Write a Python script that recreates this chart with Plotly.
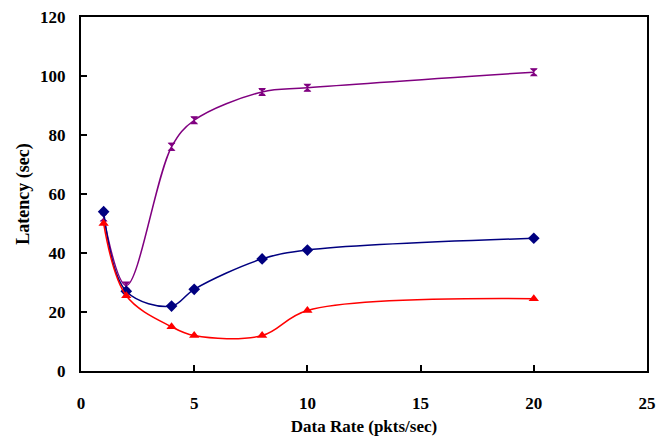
import plotly.graph_objects as go

data_rate = [1, 2, 4, 5, 8, 10, 20]
latency_blue = [54, 27, 22, 27.7, 38, 41, 45]
latency_red = [50, 25.5, 15, 12, 12, 20.5, 24.5]
latency_purple = [52, 29, 76, 85, 94.6, 96, 101.3]
purple_err = [1, 1, 1.2, 1, 0.8, 1, 1]

x_ticks = [0, 5, 10, 15, 20, 25]
y_ticks = [0, 20, 40, 60, 80, 100, 120]

font_fam = "Liberation Serif"

fig = go.Figure()
fig.add_trace(go.Scatter(
    x=data_rate, y=latency_purple, mode="lines+markers",
    line=dict(color="#800080", width=1.5, shape="spline"),
    marker=dict(symbol="hourglass", size=8, color="#800080"),
    error_y=dict(type="data", array=purple_err, color="#800080", thickness=1, width=3),
))
fig.add_trace(go.Scatter(
    x=data_rate, y=latency_blue, mode="lines+markers",
    line=dict(color="#000080", width=1.5, shape="spline"),
    marker=dict(symbol="diamond", size=9, color="#000080"),
))
fig.add_trace(go.Scatter(
    x=data_rate, y=latency_red, mode="lines+markers",
    line=dict(color="#FF0000", width=1.5, shape="spline"),
    marker=dict(symbol="triangle-up", size=9, color="#FF0000"),
))

fig.update_layout(
    width=668, height=441,
    margin=dict(l=73, r=29, t=9, b=78, autoexpand=False),
    paper_bgcolor="white", plot_bgcolor="white",
    showlegend=False,
    font=dict(family=font_fam, size=13, color="black"),
)
fig.update_xaxes(
    range=[0, 25], tickvals=x_ticks, ticktext=[str(v) for v in x_ticks],
    automargin=False, ticklabeloverflow="allow",
    showgrid=False, zeroline=False,
    showline=True, linecolor="black", linewidth=2, mirror=True,
    ticks="inside", ticklen=6, tickwidth=1.5, tickcolor="black",
    ticklabelstandoff=16,
    tickfont=dict(family=font_fam, size=17, color="black", weight="bold"),
    title=dict(text="<b>Data Rate (pkts/sec)</b>", font=dict(family=font_fam, size=17), standoff=8),
)
fig.update_yaxes(
    range=[0, 120], tickvals=y_ticks, ticktext=[str(v) for v in y_ticks],
    automargin=False, ticklabeloverflow="allow",
    showgrid=False, zeroline=False,
    showline=True, linecolor="black", linewidth=2, mirror=True,
    ticks="inside", ticklen=6, tickwidth=1.5, tickcolor="black",
    ticklabelstandoff=10,
    tickfont=dict(family=font_fam, size=17, color="black", weight="bold"),
    title=dict(text="<b>Latency (sec)</b>", font=dict(family=font_fam, size=18), standoff=6),
)

fig.write_html("out.html")
